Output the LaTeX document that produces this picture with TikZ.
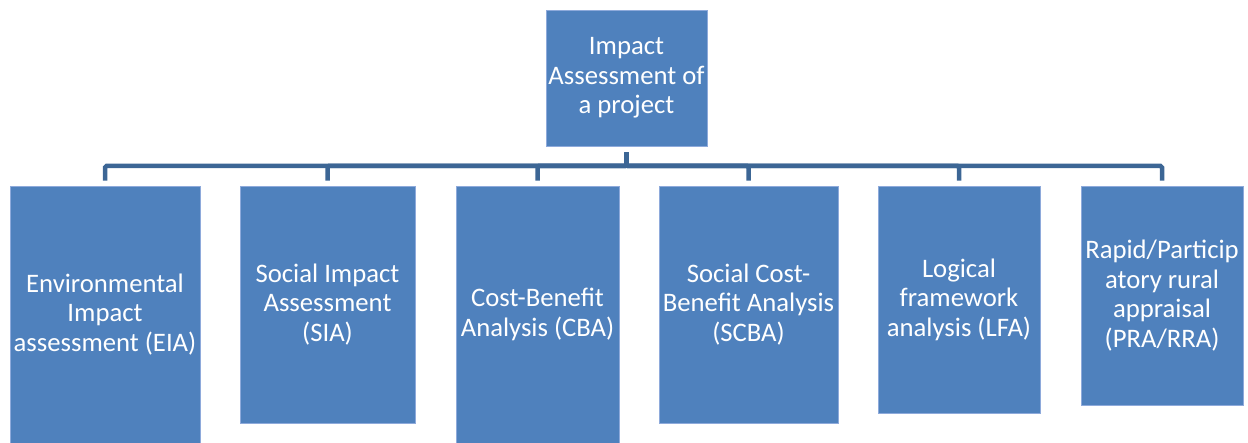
\documentclass[tikz,border=0pt]{standalone}
\usepackage{fontspec}
\setmainfont{Carlito}
\usepackage{tikz}
\definecolor{boxblue}{HTML}{4F81BD}
\definecolor{boxrim}{HTML}{8EAADB}
\definecolor{busblue}{HTML}{3C6695}

\begin{document}
\begin{tikzpicture}[
  x=1pt,y=-1pt,
  font=\fontsize{26.7}{29.5}\selectfont,
  box/.style={draw=boxrim,fill=boxblue,line width=0.6pt,text=white,
              align=center,inner sep=1pt},
  link/.style={draw=busblue,line width=4.5pt,rounded corners=1.5pt,
               shorten <=6pt,shorten >=5pt}
]
\useasboundingbox (0,0) rectangle (1248,443);

%------ the root ---------------------------------------------------------------
\node[box,minimum width=161pt,minimum height=136pt] (root) at (626.5,78)
      {Impact\\Assessment of\\a project};

%------ the six methods --------------------------------------------------------
\node[box,minimum width=190pt,minimum height=257pt] (eia)  at ( 105.0,314.5)
      {Environmental\\Impact\\assessment (EIA)};
\node[box,minimum width=175pt,minimum height=237pt] (sia)  at ( 327.5,304.5)
      {Social Impact\\Assessment\\(SIA)};
\node[box,minimum width=163pt,minimum height=257pt] (cba)  at ( 537.5,314.5)
      {Cost-Benefit\\Analysis (CBA)};
\node[box,minimum width=179pt,minimum height=237pt] (scba) at ( 748.5,304.5)
      {Social Cost-\\Benefit Analysis\\(SCBA)};
\node[box,minimum width=162pt,minimum height=227pt] (lfa)  at ( 959.0,299.5)
      {Logical\\framework\\analysis (LFA)};
\node[box,minimum width=162pt,minimum height=219pt] (pra)  at (1162.0,295.5)
      {Rapid/Particip\\atory rural\\appraisal\\(PRA/RRA)};

%------ the bus ----------------------------------------------------------------
\coordinate (bus) at (626.5,166);
\foreach \c in {eia,sia,cba,scba,lfa,pra}
  \draw[link] (root.south) -- (root.south |- bus) -| (\c.north);
\end{tikzpicture}
\end{document}
